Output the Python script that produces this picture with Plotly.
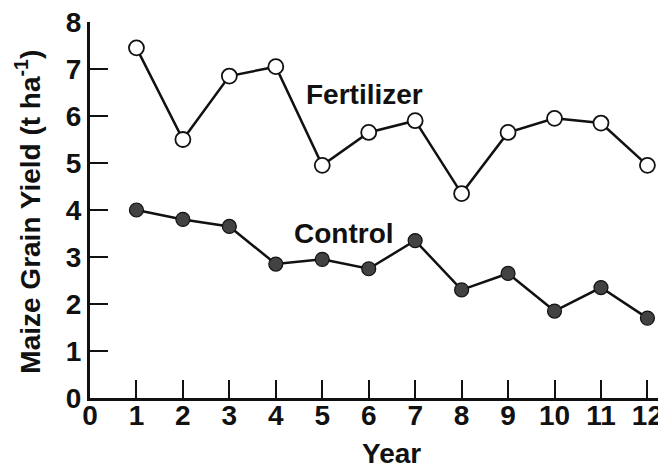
import plotly.graph_objects as go

years = list(range(1, 13))
fertilizer = [7.45, 5.5, 6.85, 7.05, 4.95, 5.65, 5.9, 4.35, 5.65, 5.95, 5.85, 4.95]
control = [4.0, 3.8, 3.65, 2.85, 2.95, 2.75, 3.35, 2.3, 2.65, 1.85, 2.35, 1.7]
x_ticks = list(range(0, 13))
y_ticks = list(range(0, 9))

FONT = 'Liberation Sans, Arial, Helvetica, sans-serif'
INK = '#111111'
BOLD28 = dict(family=FONT, size=28, color=INK, weight='bold')

fig = go.Figure()
fig.add_trace(go.Scatter(
    x=years, y=fertilizer, mode='lines+markers', name='Fertilizer',
    line=dict(color=INK, width=2.5),
    marker=dict(symbol='circle', size=15, color='white',
                line=dict(color=INK, width=1.8)),
    cliponaxis=False,
))
fig.add_trace(go.Scatter(
    x=years, y=control, mode='lines+markers', name='Control',
    line=dict(color=INK, width=2.5),
    marker=dict(symbol='circle', size=14, color='#424242',
                line=dict(color=INK, width=1.2)),
    cliponaxis=False,
))

# series labels
fig.add_annotation(x=5.91, y=6.45, text='Fertilizer', showarrow=False, font=BOLD28)
fig.add_annotation(x=5.46, y=3.51, text='Control', showarrow=False, font=BOLD28)

# axis titles (page body has an 8px margin, figure is sized to fit)
fig.add_annotation(x=-0.108, y=0.495, xref='paper', yref='paper',
                   text='Maize Grain Yield (t ha<sup>-1</sup>)', showarrow=False,
                   textangle=-90, xanchor='center', yanchor='middle', font=BOLD28)
fig.add_annotation(x=0.5226, y=-0.148, xref='paper', yref='paper',
                   text='Year', showarrow=False, xanchor='center', yanchor='middle',
                   font=BOLD28)

axis_style = dict(showgrid=False, zeroline=False, showline=True, linecolor=INK, linewidth=3,
                  ticks='inside', ticklen=18, tickwidth=2, tickcolor=INK, tickfont=BOLD28,
                  ticklabeloverflow='allow')

fig.update_layout(
    width=658, height=460,
    plot_bgcolor='white', paper_bgcolor='white',
    margin=dict(l=82, r=0, t=14, b=70),
    showlegend=False,
    font=BOLD28,
    xaxis=dict(range=[0, 12.4], tickvals=x_ticks, ticktext=[str(v) for v in x_ticks],
               ticklabelstandoff=-10, **axis_style),
    yaxis=dict(range=[0, 8], tickvals=y_ticks, ticktext=[str(v) for v in y_ticks],
               **axis_style),
)

fig.write_html("out.html")
